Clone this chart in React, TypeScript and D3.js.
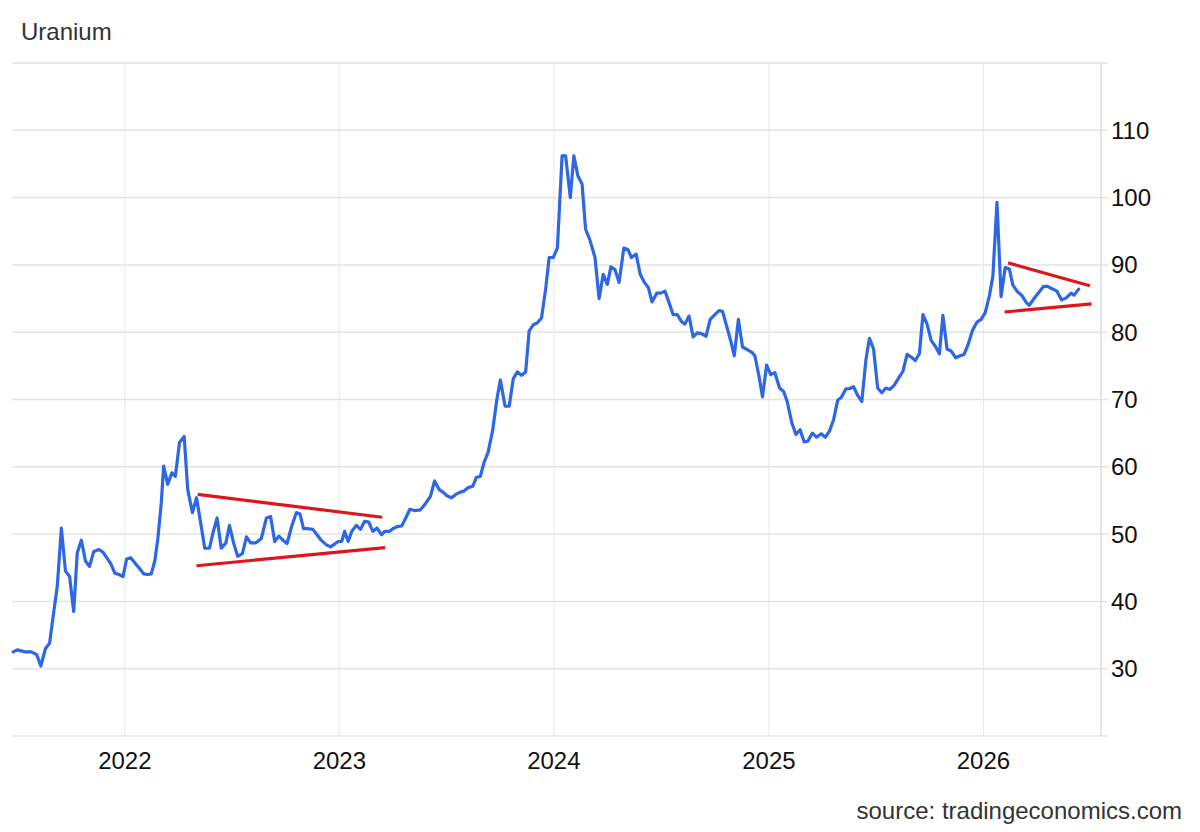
import React from 'react';
import * as d3 from 'd3';

// weekly uranium price readings (USD/lbs)
const dates = [
  '2021-06-25', '2021-07-02', '2021-07-15', '2021-07-26', '2021-08-04', '2021-08-11', '2021-08-19', '2021-08-26',
  '2021-09-01', '2021-09-08', '2021-09-15', '2021-09-22', '2021-09-29', '2021-10-06', '2021-10-12', '2021-10-19',
  '2021-10-26', '2021-11-02', '2021-11-09', '2021-11-18', '2021-11-25', '2021-12-01', '2021-12-08', '2021-12-15',
  '2021-12-22', '2021-12-29', '2022-01-04', '2022-01-11', '2022-01-21', '2022-01-26', '2022-02-02', '2022-02-09',
  '2022-02-15', '2022-02-21', '2022-02-26', '2022-03-04', '2022-03-08', '2022-03-15', '2022-03-22', '2022-03-28',
  '2022-04-04', '2022-04-12', '2022-04-18', '2022-04-26', '2022-05-03', '2022-05-10', '2022-05-17', '2022-05-25',
  '2022-05-31', '2022-06-07', '2022-06-14', '2022-06-22', '2022-06-28', '2022-07-05', '2022-07-12', '2022-07-20',
  '2022-07-27', '2022-08-03', '2022-08-12', '2022-08-21', '2022-08-30', '2022-09-06', '2022-09-13', '2022-09-20',
  '2022-09-27', '2022-10-04', '2022-10-12', '2022-10-20', '2022-10-26', '2022-11-01', '2022-11-09', '2022-11-17',
  '2022-11-24', '2022-12-01', '2022-12-10', '2022-12-17', '2022-12-22', '2022-12-30', '2023-01-05', '2023-01-10',
  '2023-01-16', '2023-01-22', '2023-01-30', '2023-02-06', '2023-02-13', '2023-02-20', '2023-02-27', '2023-03-06',
  '2023-03-14', '2023-03-19', '2023-03-27', '2023-04-02', '2023-04-09', '2023-04-17', '2023-04-24', '2023-05-01',
  '2023-05-09', '2023-05-19', '2023-05-28', '2023-06-05', '2023-06-12', '2023-06-20', '2023-06-27', '2023-07-03',
  '2023-07-11', '2023-07-18', '2023-07-25', '2023-08-01', '2023-08-08', '2023-08-16', '2023-08-22', '2023-08-29',
  '2023-09-04', '2023-09-11', '2023-09-19', '2023-09-26', '2023-10-02', '2023-10-10', '2023-10-17', '2023-10-24',
  '2023-10-31', '2023-11-07', '2023-11-14', '2023-11-20', '2023-11-27', '2023-12-04', '2023-12-11', '2023-12-18',
  '2023-12-24', '2023-12-31', '2024-01-07', '2024-01-15', '2024-01-21', '2024-01-29', '2024-02-04', '2024-02-11',
  '2024-02-18', '2024-02-24', '2024-03-02', '2024-03-11', '2024-03-18', '2024-03-25', '2024-04-01', '2024-04-07',
  '2024-04-14', '2024-04-21', '2024-04-29', '2024-05-06', '2024-05-12', '2024-05-20', '2024-05-27', '2024-06-03',
  '2024-06-10', '2024-06-16', '2024-06-24', '2024-07-01', '2024-07-08', '2024-07-15', '2024-07-22', '2024-07-29',
  '2024-08-05', '2024-08-11', '2024-08-18', '2024-08-25', '2024-09-01', '2024-09-08', '2024-09-16', '2024-09-23',
  '2024-10-01', '2024-10-08', '2024-10-14', '2024-10-21', '2024-10-28', '2024-11-03', '2024-11-10', '2024-11-17',
  '2024-11-25', '2024-12-03', '2024-12-08', '2024-12-15', '2024-12-21', '2024-12-28', '2025-01-04', '2025-01-11',
  '2025-01-19', '2025-01-26', '2025-02-01', '2025-02-09', '2025-02-16', '2025-02-23', '2025-03-02', '2025-03-08',
  '2025-03-16', '2025-03-23', '2025-03-31', '2025-04-07', '2025-04-14', '2025-04-21', '2025-04-28', '2025-05-04',
  '2025-05-12', '2025-05-18', '2025-05-25', '2025-06-01', '2025-06-08', '2025-06-15', '2025-06-21', '2025-06-28',
  '2025-07-05', '2025-07-12', '2025-07-19', '2025-07-26', '2025-08-02', '2025-08-09', '2025-08-17', '2025-08-24',
  '2025-08-31', '2025-09-07', '2025-09-14', '2025-09-20', '2025-09-27', '2025-10-04', '2025-10-11', '2025-10-18',
  '2025-10-24', '2025-10-31', '2025-11-07', '2025-11-15', '2025-11-22', '2025-11-29', '2025-12-06', '2025-12-13',
  '2025-12-21', '2025-12-28', '2026-01-04', '2026-01-11', '2026-01-17', '2026-01-24', '2026-01-31', '2026-02-07',
  '2026-02-14', '2026-02-20', '2026-02-28', '2026-03-07', '2026-03-15', '2026-03-20', '2026-03-28', '2026-04-05',
  '2026-04-13', '2026-04-20', '2026-04-27', '2026-05-06', '2026-05-14', '2026-05-22', '2026-05-30', '2026-06-04',
  '2026-06-12',
];

const prices = [
  32.5, 32.8, 32.5, 32.5, 32.1, 30.4, 33.0, 33.8,
  37.8, 42.2, 50.9, 44.5, 43.7, 38.5, 47.2, 49.1,
  46.0, 45.2, 47.4, 47.7, 47.3, 46.5, 45.6, 44.2,
  44.0, 43.7, 46.3, 46.5, 45.4, 44.9, 44.1, 44.0,
  44.1, 46.0, 49.2, 54.6, 60.1, 57.4, 59.1, 58.6,
  63.6, 64.5, 56.6, 53.2, 55.4, 51.7, 47.9, 47.9,
  50.2, 52.4, 47.9, 48.7, 51.3, 48.7, 46.7, 47.1,
  49.6, 48.7, 48.7, 49.3, 52.4, 52.6, 48.9, 49.7,
  49.1, 48.6, 51.2, 53.2, 53.0, 50.8, 50.8, 50.7,
  49.9, 49.1, 48.4, 48.1, 48.4, 48.9, 48.9, 50.4,
  48.9, 50.4, 51.3, 50.7, 51.9, 51.8, 50.4, 50.9,
  49.9, 50.4, 50.4, 50.8, 51.1, 51.2, 52.4, 53.7,
  53.5, 53.6, 54.6, 55.6, 57.9, 56.6, 56.2, 55.7,
  55.4, 55.9, 56.2, 56.4, 56.9, 57.1, 58.4, 58.6,
  60.6, 62.1, 65.5, 70.0, 72.9, 69.0, 69.0, 73.1,
  74.1, 73.6, 74.1, 80.2, 81.1, 81.4, 82.1, 86.4,
  91.1, 91.1, 92.5, 106.2, 106.2, 100.0, 106.2, 103.2,
  102.0, 95.3, 93.8, 91.1, 85.0, 88.6, 87.1, 89.7,
  89.3, 87.4, 92.5, 92.3, 91.1, 91.6, 88.6, 87.4,
  86.6, 84.5, 85.8, 85.8, 86.1, 84.4, 82.6, 82.6,
  81.6, 81.2, 82.4, 79.3, 79.9, 79.8, 79.4, 81.9,
  82.6, 83.2, 83.1, 80.9, 78.7, 76.5, 81.9, 77.8,
  77.4, 77.0, 76.5, 73.5, 70.4, 75.1, 73.7, 74.0,
  71.7, 71.2, 69.7, 66.5, 64.8, 65.5, 63.7, 63.8,
  65.0, 64.4, 64.9, 64.4, 65.3, 67.0, 69.9, 70.3,
  71.6, 71.6, 71.9, 70.6, 69.7, 75.9, 79.1, 77.5,
  71.7, 71.0, 71.7, 71.5, 72.1, 73.1, 74.2, 76.7,
  76.3, 75.8, 76.8, 82.6, 81.2, 78.8, 77.9, 76.8,
  82.5, 77.5, 77.2, 76.2, 76.5, 76.7, 78.2, 80.2,
  81.5, 81.9, 82.9, 85.4, 88.3, 99.3, 85.3, 89.6,
  89.4, 87.0, 86.0, 85.5, 84.4, 84.0, 85.0, 85.9,
  86.8, 86.8, 86.5, 86.1, 84.8, 85.1, 85.8, 85.5,
  86.4,
];

// hand-drawn trend lines (start date, start value, end date, end value)
const trendLines: [string, number, string, number][] = [
  ['2022-05-05', 55.9, '2023-03-15', 52.5],
  ['2022-05-03', 45.3, '2023-03-20', 48.0],
  ['2026-02-12', 90.3, '2026-07-01', 86.9],
  ['2026-02-06', 83.0, '2026-07-04', 84.2],
];

const yTicks = [30, 40, 50, 60, 70, 80, 90, 100, 110];
const gridValues = [20, 30, 40, 50, 60, 70, 80, 90, 100, 110, 120];
const yearTicks = ['2022-01-01', '2023-01-01', '2024-01-01', '2025-01-01', '2026-01-01'];

const W = 1200;
const H = 832;
const left = 12;
const right = 1101;
const top = 63;
const bottom = 736;

const font = '"Liberation Sans", Arial, Helvetica, sans-serif';

export default function App() {
  const parse = d3.utcParse('%Y-%m-%d');
  const data = dates.map((d, i) => ({ date: parse(d) as Date, value: prices[i] }));

  const x = d3.scaleUtc()
    .domain([parse('2021-06-23') as Date, parse('2026-07-20') as Date])
    .range([left, right]);
  const y = d3.scaleLinear().domain([20, 120]).range([bottom, top]);

  const line = d3.line<{ date: Date; value: number }>()
    .x(d => x(d.date))
    .y(d => y(d.value));

  return (
    <svg width={W} height={H} style={{ position: 'absolute', left: 0, top: 0, background: '#fff' }} fontFamily={font}>
      <text x={21} y={40} fontSize={24} fill="#333">Uranium</text>

      {yearTicks.map(t => (
        <line key={t} x1={x(parse(t) as Date)} x2={x(parse(t) as Date)} y1={top} y2={bottom} stroke="#e2ebf2" strokeWidth={1} />
      ))}

      {gridValues.map(v => (
        <line key={v} x1={left} x2={right + 7} y1={y(v)} y2={y(v)} stroke="#e3e3e3" strokeWidth={1.5} />
      ))}
      <line x1={right} x2={right} y1={top} y2={bottom} stroke="#dcdcdc" strokeWidth={1.5} />

      {yTicks.map(v => (
        <text key={v} x={1111} y={y(v) + 8.5} fontSize={24} fill="#111">{v}</text>
      ))}

      {yearTicks.map(t => (
        <text key={t} x={x(parse(t) as Date)} y={768.5} fontSize={24} fill="#111" textAnchor="middle">{t.slice(0, 4)}</text>
      ))}

      <path d={line(data) ?? ''} fill="none" stroke="#2d67e6" strokeWidth={3.2} strokeLinejoin="round" strokeLinecap="round" />

      {trendLines.map((t, i) => (
        <line key={i}
          x1={x(parse(t[0]) as Date)} y1={y(t[1])}
          x2={x(parse(t[2]) as Date)} y2={y(t[3])}
          stroke="#e0141b" strokeWidth={3.2} />
      ))}

      <text x={1182} y={819} fontSize={24} fill="#333" textAnchor="end">source: tradingeconomics.com</text>
    </svg>
  );
}
